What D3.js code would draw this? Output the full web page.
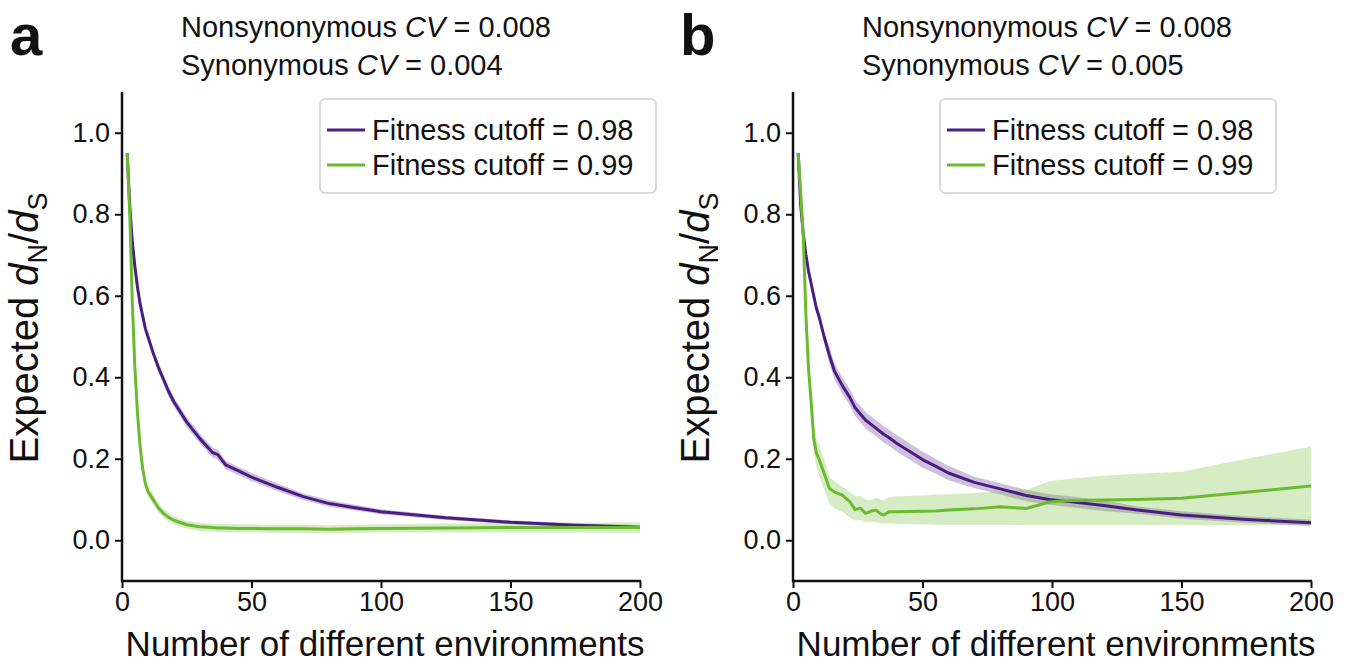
<!DOCTYPE html>
<html>
<head>
<meta charset="utf-8">
<script src="https://cdn.jsdelivr.net/npm/d3@7"></script>
<style>
  body { margin: 0; background: #fff; }
  text { font-family: "Liberation Sans", Arial, sans-serif; fill: #111; }
</style>
</head>
<body>
<script>
// ---- data ----
let xTicks = [0, 50, 100, 150, 200];
let yTicks = [0.0, 0.2, 0.4, 0.6, 0.8, 1.0];
let legendLabels = ["Fitness cutoff = 0.98", "Fitness cutoff = 0.99"];

// panel a
let envA = [2,3,4,5,6,7,8,9,10,12,14,16,18,20,25,30,35,37,40,45,50,60,70,80,90,100,125,150,175,200];
let purpleA   = [0.95,0.82,0.73,0.67,0.62,0.58,0.55,0.52,0.50,0.46,0.425,0.395,0.365,0.34,0.29,0.25,0.215,0.21,0.185,0.17,0.155,0.13,0.107,0.09,0.08,0.07,0.055,0.044,0.037,0.032];
let purpleALo = [0.946,0.815,0.724,0.664,0.613,0.572,0.542,0.511,0.49,0.45,0.414,0.383,0.353,0.328,0.278,0.238,0.203,0.198,0.174,0.16,0.145,0.121,0.099,0.082,0.073,0.064,0.05,0.039,0.032,0.027];
let purpleAHi = [0.954,0.825,0.736,0.676,0.627,0.588,0.558,0.529,0.51,0.47,0.436,0.407,0.377,0.352,0.302,0.262,0.227,0.222,0.196,0.18,0.165,0.139,0.115,0.098,0.087,0.076,0.06,0.049,0.042,0.037];
let greenA   = [0.95,0.80,0.58,0.42,0.31,0.23,0.175,0.14,0.12,0.10,0.08,0.066,0.056,0.049,0.038,0.033,0.031,0.03,0.03,0.029,0.029,0.028,0.028,0.027,0.028,0.029,0.03,0.031,0.031,0.031];
let greenALo = [0.948,0.795,0.572,0.41,0.298,0.218,0.163,0.128,0.108,0.088,0.069,0.055,0.045,0.039,0.028,0.023,0.021,0.02,0.02,0.019,0.019,0.018,0.018,0.017,0.018,0.019,0.019,0.019,0.019,0.018];
let greenAHi = [0.952,0.805,0.588,0.43,0.322,0.242,0.187,0.152,0.132,0.112,0.091,0.077,0.067,0.059,0.048,0.043,0.041,0.04,0.04,0.039,0.039,0.038,0.038,0.037,0.038,0.039,0.041,0.043,0.043,0.044];

// panel b
let envB = [2,3,4,5,6,7,8,9,10,12,14,16,19,22,24,26,28,30,32,34,35,37,40,50,55,60,70,80,90,99,105,120,133,150,175,200];
let purpleB   = [0.95,0.82,0.75,0.70,0.66,0.63,0.60,0.57,0.55,0.50,0.455,0.415,0.38,0.35,0.325,0.31,0.295,0.285,0.275,0.265,0.26,0.252,0.238,0.198,0.182,0.165,0.142,0.126,0.11,0.1,0.096,0.085,0.074,0.062,0.051,0.043];
let purpleBLo = [0.945,0.81,0.74,0.69,0.648,0.618,0.588,0.558,0.538,0.488,0.435,0.395,0.36,0.33,0.305,0.29,0.275,0.265,0.255,0.245,0.24,0.232,0.218,0.178,0.164,0.147,0.128,0.112,0.096,0.087,0.083,0.072,0.065,0.053,0.043,0.035];
let purpleBHi = [0.955,0.83,0.76,0.71,0.672,0.642,0.612,0.582,0.562,0.512,0.475,0.435,0.4,0.37,0.345,0.33,0.315,0.305,0.295,0.285,0.28,0.272,0.258,0.218,0.2,0.183,0.156,0.14,0.124,0.113,0.109,0.098,0.083,0.071,0.059,0.051];
let greenB   = [0.95,0.85,0.74,0.55,0.42,0.34,0.25,0.215,0.2,0.165,0.128,0.118,0.111,0.094,0.075,0.079,0.066,0.071,0.074,0.064,0.062,0.07,0.07,0.071,0.072,0.074,0.077,0.082,0.078,0.094,0.097,0.099,0.10,0.103,0.118,0.133];
let greenBLo = [0.95,0.84,0.72,0.53,0.40,0.31,0.22,0.18,0.16,0.125,0.09,0.078,0.07,0.056,0.048,0.05,0.045,0.045,0.044,0.042,0.04,0.042,0.04,0.039,0.038,0.038,0.038,0.038,0.037,0.037,0.037,0.037,0.037,0.037,0.037,0.037];
let greenBHi = [0.95,0.86,0.76,0.57,0.44,0.37,0.28,0.25,0.235,0.2,0.155,0.145,0.132,0.118,0.108,0.108,0.1,0.098,0.105,0.1,0.098,0.105,0.108,0.11,0.112,0.113,0.116,0.12,0.124,0.145,0.15,0.158,0.163,0.168,0.2,0.23];

let purple = "#4a1d82";
let green = "#6cba2f";

let width = 1357, height = 666;
let svg = d3.select("body").append("svg")
  .attr("width", width).attr("height", height);
svg.append("rect").attr("width", width).attr("height", height).style("fill", "white");

function makeSeries(env, mean, lo, hi) {
  return env.map(function(e, i) { return {x: e, y: mean[i], lo: lo[i], hi: hi[i]}; });
}

function drawPanel(opt) {
  let g = svg.append("g");
  let x = d3.scaleLinear().domain([0, 200]).range([opt.left, opt.right]);
  let y = d3.scaleLinear().domain([-0.1, 1.1]).range([581, 92]);

  // bands then lines
  let area = d3.area().x(d => x(d.x)).y0(d => y(d.lo)).y1(d => y(d.hi));
  let line = d3.line().x(d => x(d.x)).y(d => y(d.y));

  opt.series.forEach(function(s) {
    g.append("path").datum(s.data).attr("d", area)
      .style("fill", s.color).style("opacity", 0.28).style("stroke", "none");
  });
  opt.series.forEach(function(s) {
    g.append("path").datum(s.data).attr("d", line)
      .style("fill", "none").style("stroke", s.color).style("stroke-width", 3)
      .style("stroke-linejoin", "round");
  });

  // axes
  let yAxis = g.append("g").attr("transform", "translate(" + opt.left + ",0)")
    .call(d3.axisLeft(y).tickValues(yTicks).tickFormat(d3.format(".1f")).tickSize(7).tickPadding(5));
  let xAxis = g.append("g").attr("transform", "translate(0,581)")
    .call(d3.axisBottom(x).tickValues(xTicks).tickSize(7).tickPadding(4));
  [yAxis, xAxis].forEach(function(a) {
    a.select(".domain").remove();
    a.selectAll("line").style("stroke", "#111").style("stroke-width", 2);
    a.selectAll("text").style("font-size", "27px").style("fill", "#111")
      .style("font-family", '"Liberation Sans", Arial, sans-serif');
  });
  g.append("line").attr("x1", opt.left).attr("x2", opt.left).attr("y1", 92).attr("y2", 582)
    .style("stroke", "#111").style("stroke-width", 2.5);
  g.append("line").attr("x1", opt.left - 1).attr("x2", x(200) + 1).attr("y1", 581).attr("y2", 581)
    .style("stroke", "#111").style("stroke-width", 2.5);

  // axis labels
  g.append("text").attr("x", (opt.left + x(200)) / 2 + 4).attr("y", 656)
    .attr("text-anchor", "middle").style("font-size", "35px")
    .text("Number of different environments");

  let yl = g.append("text")
    .attr("transform", "translate(" + (opt.left - 84) + ",328) rotate(-90)")
    .attr("text-anchor", "middle").style("font-size", "40px");
  yl.append("tspan").text("Expected ");
  yl.append("tspan").style("font-style", "italic").text("d");
  yl.append("tspan").attr("dy", 9).style("font-size", "27px").text("N");
  yl.append("tspan").attr("dy", -9).text("/");
  yl.append("tspan").style("font-style", "italic").text("d");
  yl.append("tspan").attr("dy", 9).style("font-size", "27px").text("S");

  // panel letter and CV notes
  g.append("text").attr("x", opt.letterX).attr("y", 55)
    .style("font-size", "58px").style("font-weight", "bold").text(opt.letter);
  let t1 = g.append("text").attr("x", opt.titleX).attr("y", 37).style("font-size", "29px");
  t1.append("tspan").text("Nonsynonymous ");
  t1.append("tspan").style("font-style", "italic").text("CV");
  t1.append("tspan").text(" = " + opt.cvN);
  let t2 = g.append("text").attr("x", opt.titleX).attr("y", 75).style("font-size", "29px");
  t2.append("tspan").text("Synonymous ");
  t2.append("tspan").style("font-style", "italic").text("CV");
  t2.append("tspan").text(" = " + opt.cvS);

  // legend
  let lg = g.append("g").attr("transform", "translate(" + opt.legendX + ",99)");
  lg.append("rect").attr("width", 336).attr("height", 94).attr("rx", 5)
    .style("fill", "white").style("stroke", "#d0d0d0").style("stroke-width", 1.5);
  opt.series.forEach(function(s, i) {
    lg.append("line").attr("x1", 7).attr("x2", 45).attr("y1", 31 + i * 35).attr("y2", 31 + i * 35)
      .style("stroke", s.color).style("stroke-width", 3);
    lg.append("text").attr("x", 52).attr("y", 41 + i * 35).style("font-size", "29px")
      .text(legendLabels[i]);
  });
}

drawPanel({
  left: 122, right: 640, letter: "a", letterX: 10, titleX: 181, legendX: 320,
  cvN: "0.008", cvS: "0.004",
  series: [
    {color: purple, data: makeSeries(envA, purpleA, purpleALo, purpleAHi)},
    {color: green, data: makeSeries(envA, greenA, greenALo, greenAHi)}
  ]
});
drawPanel({
  left: 793, right: 1311, letter: "b", letterX: 680, titleX: 862, legendX: 940,
  cvN: "0.008", cvS: "0.005",
  series: [
    {color: purple, data: makeSeries(envB, purpleB, purpleBLo, purpleBHi)},
    {color: green, data: makeSeries(envB, greenB, greenBLo, greenBHi)}
  ]
});
</script>
</body>
</html>
